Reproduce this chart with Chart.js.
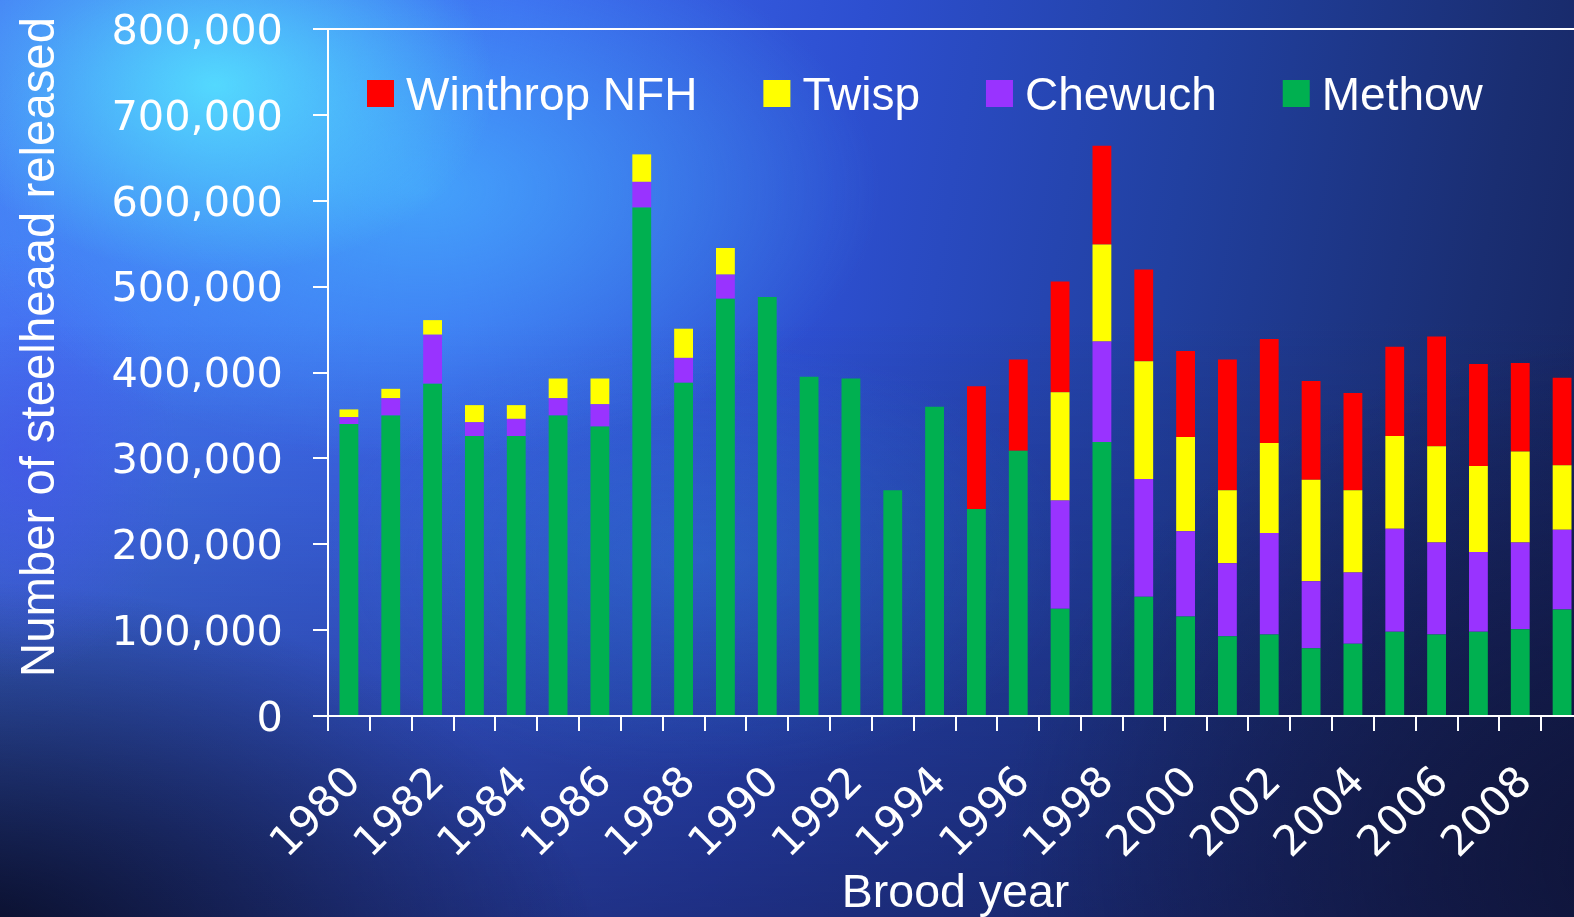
<!DOCTYPE html>
<html lang="en">
<head>
<meta charset="UTF-8" />
<title>Steelhead released by brood year</title>
<script src="https://cdn.jsdelivr.net/npm/chart.js"></script>
<style>
  html, body { margin: 0; padding: 0; width: 1574px; height: 917px; overflow: hidden; }
  body {
    background:
      radial-gradient(ellipse 280px 190px at 215px 85px, rgba(85,225,255,0.9) 0%, rgba(85,225,255,0) 100%),
      radial-gradient(ellipse 460px 270px at 420px 190px, rgba(70,180,255,0.75) 0%, rgba(70,180,255,0) 100%),
      radial-gradient(ellipse 380px 220px at 700px 560px, rgba(50,140,230,0.35) 0%, rgba(50,140,230,0) 100%),
      radial-gradient(ellipse 160px 220px at 20px 460px, rgba(70,80,235,0.6) 0%, rgba(70,80,235,0) 100%),
      radial-gradient(ellipse 650px 380px at -50px 960px, rgba(6,8,30,0.95) 0%, rgba(6,8,30,0) 100%),
      radial-gradient(ellipse 650px 520px at 1650px 860px, rgba(15,20,55,0.9) 0%, rgba(15,20,55,0) 100%),
      linear-gradient(to bottom, rgba(0,0,0,0) 35%, rgba(20,25,80,0.6) 100%),
      linear-gradient(100deg, #4680f5 0%, #3c66ee 30%, #2d4fd0 50%, #2140a0 70%, #1a2e72 88%, #15225a 100%);
  }
  #wrap { position: absolute; left: 0; top: 0; width: 1583px; height: 917px; }
</style>
</head>
<body>
<div id="wrap"><canvas id="releaseChart"></canvas></div>

<script>
  // brood years 1980–2009
  const years = ['1980', '1981', '1982', '1983', '1984', '1985', '1986', '1987', '1988', '1989',
    '1990', '1991', '1992', '1993', '1994', '1995', '1996', '1997', '1998', '1999',
    '2000', '2001', '2002', '2003', '2004', '2005', '2006', '2007', '2008', '2009'];

  // releases per program
  const methow = [340000, 350000, 387000, 326000, 326000, 350000, 337000, 592000, 388000, 486000,
    488000, 395000, 393000, 263000, 360000, 241000, 309000, 125000, 319000, 139000,
    116000, 93000, 95000, 79000, 84000, 98000, 95000, 98000, 101000, 124000];
  const chewuch = [8000, 20000, 57000, 16000, 20000, 20000, 26000, 30000, 29000, 28000,
    0, 0, 0, 0, 0, 0, 0, 126000, 117000, 137000,
    99000, 85000, 118000, 78000, 83000, 120000, 107000, 93000, 101000, 93000];
  const twisp = [9000, 11000, 17000, 20000, 16000, 23000, 30000, 32000, 34000, 31000,
    0, 0, 0, 0, 0, 0, 0, 126000, 113000, 137000,
    110000, 85000, 105000, 118000, 96000, 108000, 112000, 100000, 106000, 75000];
  const winthrop = [0, 0, 0, 0, 0, 0, 0, 0, 0, 0,
    0, 0, 0, 0, 0, 143000, 106000, 129000, 115000, 107000,
    100000, 152000, 121000, 115000, 113000, 104000, 128000, 119000, 103000, 102000];

  const yAxisTitle = 'Number of steelheaad released';
  const xAxisTitle = 'Brood year';

  // legend drawn inside the plot, Winthrop first
  const insideLegend = {
    id: 'insideLegend',
    afterDraw(chart) {
      const ctx = chart.ctx;
      ctx.save();
      ctx.font = '46px "Liberation Sans", Arial, sans-serif';
      ctx.textBaseline = 'alphabetic';
      ctx.textAlign = 'left';
      let x = 367;
      chart.data.datasets.slice().reverse().forEach(ds => {
        ctx.fillStyle = ds.backgroundColor;
        ctx.fillRect(x, 80, 27, 27);
        ctx.fillStyle = '#ffffff';
        ctx.fillText(ds.label, x + 39, 110);
        x += 39 + ctx.measureText(ds.label).width + 66;
      });
      ctx.restore();
    }
  };

  const yTitle = {
    id: 'yTitle',
    afterDraw(chart) {
      const ctx = chart.ctx;
      ctx.save();
      ctx.translate(54, 347);
      ctx.rotate(-Math.PI / 2);
      ctx.font = '47.3px "Liberation Sans", Arial, sans-serif';
      ctx.fillStyle = '#ffffff';
      ctx.textAlign = 'center';
      ctx.textBaseline = 'alphabetic';
      ctx.fillText(yAxisTitle, 0, 0);
      ctx.restore();
    }
  };

  const fontFamily = '"DejaVu Sans", Verdana, sans-serif';

  const ctx = document.getElementById('releaseChart').getContext('2d');
  const releaseChart = new Chart(ctx, {
    type: 'bar',
    data: {
      labels: years,
      datasets: [
        { label: 'Methow', data: methow, backgroundColor: '#00b050' },
        { label: 'Chewuch', data: chewuch, backgroundColor: '#9933ff' },
        { label: 'Twisp', data: twisp, backgroundColor: '#ffff00' },
        { label: 'Winthrop NFH', data: winthrop, backgroundColor: '#ff0000' }
      ]
    },
    options: {
      responsive: true,
      maintainAspectRatio: false,
      animation: false,
      events: [],
      layout: { padding: { top: 29, left: 0, right: 0, bottom: 0 } },
      datasets: { bar: { barPercentage: 0.45, categoryPercentage: 1.0 } },
      scales: {
        x: {
          stacked: true,
          grid: { offset: true, drawOnChartArea: false, color: '#ffffff', lineWidth: 2, tickLength: 15 },
          border: { color: '#ffffff', width: 2 },
          ticks: {
            color: '#ffffff',
            font: { family: fontFamily, size: 42 },
            autoSkip: false,
            minRotation: 45,
            maxRotation: 45,
            padding: 27,
            labelOffset: 6,
            callback: function (value, index) {
              return index % 2 === 0 ? this.getLabelForValue(value) : '';
            }
          },
          title: {
            display: true,
            text: xAxisTitle,
            color: '#ffffff',
            font: { family: '"Liberation Sans", Arial, sans-serif', size: 46.5 },
            padding: { top: 0, bottom: -5 }
          },
          afterFit(scale) {
            scale.height = 201;
            scale.paddingLeft = 0;
            scale.paddingRight = 0;
          }
        },
        y: {
          stacked: true,
          min: 0,
          max: 800000,
          grid: {
            color: c => (c.tick && c.tick.value === 800000 ? '#ffffff' : 'rgba(0,0,0,0)'),
            tickColor: '#ffffff',
            lineWidth: 2,
            tickWidth: 2,
            tickLength: 15
          },
          border: { color: '#ffffff', width: 2 },
          ticks: {
            color: '#ffffff',
            font: { family: fontFamily, size: 41.5 },
            stepSize: 100000,
            padding: 30,
            labelOffset: 4,
            callback: v => v.toLocaleString('en-US')
          },
          afterFit(scale) {
            scale.width = 328;
            scale.paddingTop = 0;
            scale.paddingBottom = 0;
          }
        }
      },
      plugins: {
        legend: { display: false },
        tooltip: { enabled: false }
      }
    },
    plugins: [insideLegend, yTitle]
  });
</script>
</body>
</html>
